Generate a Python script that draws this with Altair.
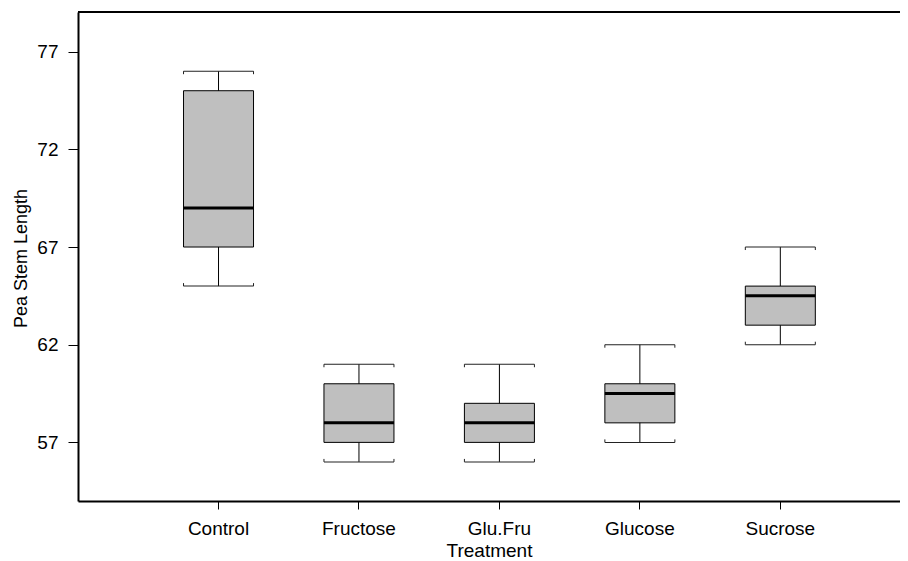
import altair as alt
import pandas as pd

treatment = ["Control", "Fructose", "Glu.Fru", "Glucose", "Sucrose"]
lower = [65, 56, 56, 57, 62]
q1 = [67, 57, 57, 58, 63]
median = [69, 58, 58, 59.5, 64.5]
q3 = [75, 60, 59, 60, 65]
upper = [76, 61, 61, 62, 67]
y_ticks = [57, 62, 67, 72, 77]

df = pd.DataFrame({"Treatment": treatment, "lower": lower, "q1": q1,
                   "median": median, "q3": q3, "upper": upper})

FONT = "Liberation Sans"
FS = 19
BOXW = 70

xscale = alt.Scale(domain=treatment, paddingInner=0, paddingOuter=0.4263, align=0.587)
yscale = alt.Scale(domain=[54.0, 79.03], nice=False, zero=False)

xenc = alt.X("Treatment:N", scale=xscale, sort=treatment,
             axis=alt.Axis(title="Treatment", labelAngle=0, tickSize=8, tickColor="black",
                           tickWidth=1, domainColor="black", domainWidth=2,
                           labelFont=FONT, labelFontSize=FS, labelColor="black",
                           labelPadding=25, labelBaseline="alphabetic",
                           titleFont=FONT, titleFontSize=FS, titleFontWeight="normal",
                           titleColor="black", titleBaseline="alphabetic", titleY=55,
                           grid=False))
yaxis = alt.Axis(title="Pea Stem Length", values=y_ticks, tickSize=10, tickColor="black",
                 tickWidth=1, domainColor="black", domainWidth=2,
                 labelFont=FONT, labelFontSize=FS, labelColor="black", labelPadding=10,
                 titleFont=FONT, titleFontSize=FS - 1, titleFontWeight="normal",
                 titleColor="black", titleX=-57, titleY=246, titleAngle=-90,
                 titleBaseline="middle", titleAlign="center", grid=False)

base = alt.Chart(df)

whisker = base.mark_rule(color="black", strokeWidth=1, opacity=1).encode(
    x=xenc, y=alt.Y("lower:Q", scale=yscale, axis=yaxis), y2="upper:Q")
box = base.mark_bar(size=BOXW, fill="#bfbfbf", stroke="black", strokeWidth=1, opacity=1).encode(
    x=xenc, y=alt.Y("q1:Q", scale=yscale, axis=yaxis), y2="q3:Q")
med = base.mark_tick(size=BOXW, thickness=3, color="black", opacity=1).encode(
    x=xenc, y=alt.Y("median:Q", scale=yscale, axis=yaxis))
staple_lo = base.mark_tick(size=BOXW, thickness=1, color="#222222", opacity=1).encode(
    x=xenc, y=alt.Y("lower:Q", scale=yscale, axis=yaxis))
staple_hi = base.mark_tick(size=BOXW, thickness=1, color="#222222", opacity=1).encode(
    x=xenc, y=alt.Y("upper:Q", scale=yscale, axis=yaxis))

hooks = []
for off in (-BOXW / 2, BOXW / 2):
    hooks.append(base.mark_rule(color="#222222", strokeWidth=1, xOffset=off, y2Offset=3).encode(
        x=xenc, y=alt.Y("upper:Q", scale=yscale, axis=yaxis), y2=alt.Y2("upper:Q")))
    hooks.append(base.mark_rule(color="#222222", strokeWidth=1, xOffset=off, y2Offset=-3).encode(
        x=xenc, y=alt.Y("lower:Q", scale=yscale, axis=yaxis), y2=alt.Y2("lower:Q")))

top_line = alt.Chart(pd.DataFrame({"a": [0]})).mark_rule(color="black", strokeWidth=2).encode(
    x=alt.value(0), x2=alt.value(822), y=alt.value(0))

chart = alt.layer(whisker, box, med, staple_lo, staple_hi, *hooks, top_line).properties(
    width=822, height=489,
    autosize=alt.AutoSizeParams(type="none"),
    padding={"left": 70, "top": 4, "right": 0, "bottom": 58},
    background="white",
).configure_view(stroke=None)

chart.save("out.html", embed_options={"renderer": "svg", "actions": False})
